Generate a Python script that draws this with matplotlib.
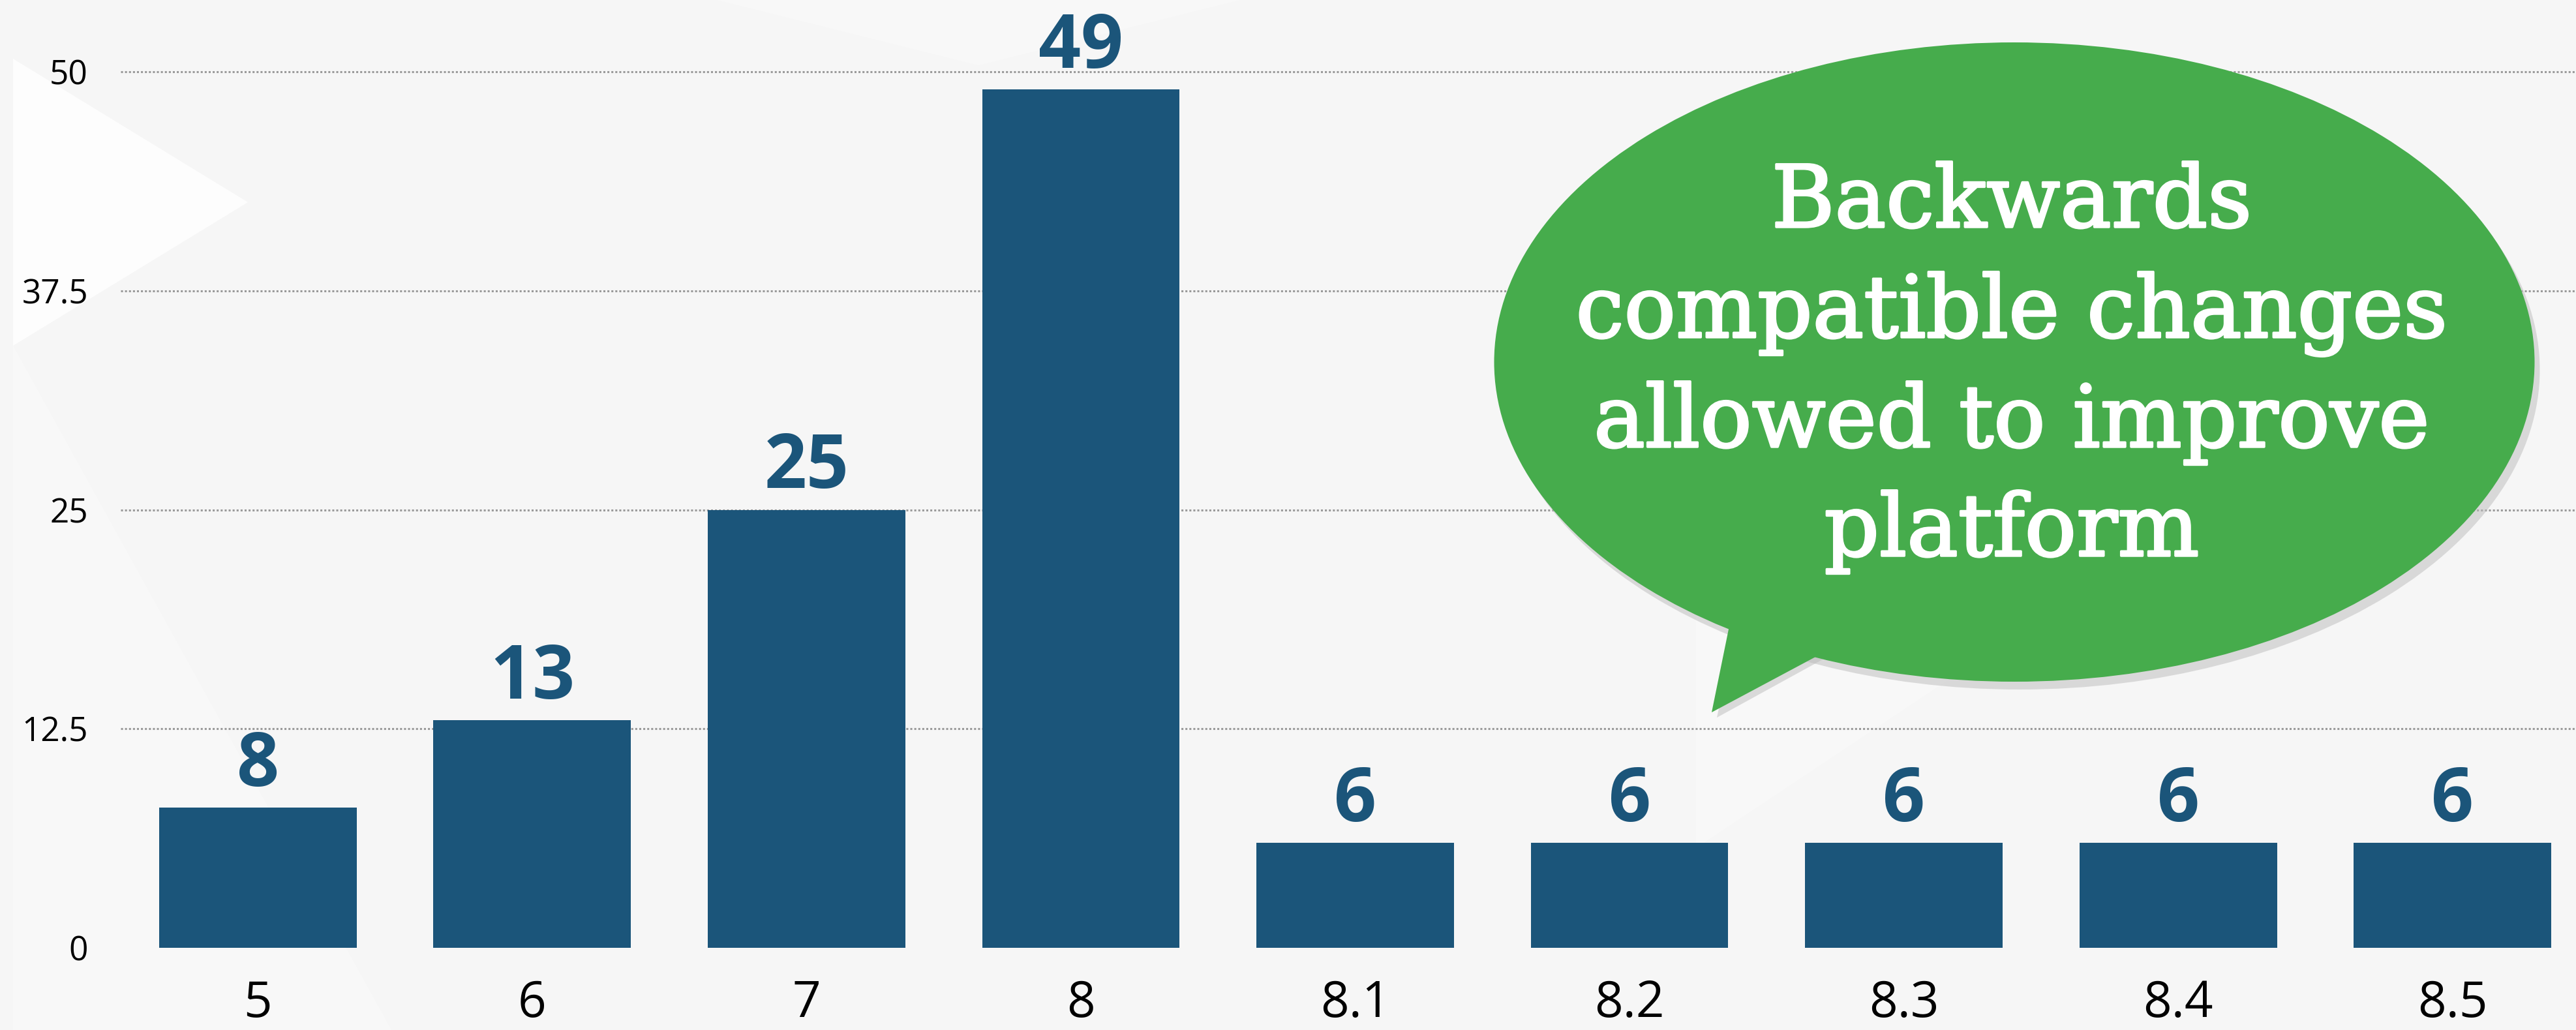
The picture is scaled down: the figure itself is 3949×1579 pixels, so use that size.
import matplotlib
matplotlib.use('Agg')
import matplotlib.pyplot as plt
import matplotlib.patheffects as pe
from matplotlib.patches import Ellipse, Polygon

# data
versions = ['5', '6', '7', '8', '8.1', '8.2', '8.3', '8.4', '8.5']
counts = [8, 13, 25, 49, 6, 6, 6, 6, 6]
y_ticks = [0, 12.5, 25, 37.5, 50]
y_tick_labels = ['0', '12.5', '25', '37.5', '50']
bubble_lines = ['Backwards', 'compatible changes', 'allowed to improve', 'platform']

bar_color = '#1B557A'
green = '#46AC4C'
sans = ['Open Sans', 'DejaVu Sans']

W, H = 3949, 1579
fig = plt.figure(figsize=(W / 100, H / 100), dpi=100)
fig.patch.set_facecolor('#F6F6F6')

# faint background triangles
bg = fig.add_axes([0, 0, 1, 1], zorder=0)
bg.set_xlim(0, W)
bg.set_ylim(H, 0)
bg.axis('off')
tris = [
    ([(20, 90), (380, 310), (20, 530)], 0.8),
    ([(20, 530), (20, 1579), (600, 1579)], 0.3),
    ([(1100, 0), (1900, 0), (1500, 100)], 0.3),
    ([(2600, 350), (3200, 900), (2600, 1300)], 0.3),
]
for t, a in tris:
    bg.add_patch(Polygon(t, closed=True, color='white', alpha=a, lw=0))

ax = fig.add_axes([185 / W, 1 - 1453 / H, 1 - 185 / W, 1453 / H], zorder=1)
ax.patch.set_alpha(0)
x = list(range(len(versions)))
ax.bar(x, counts, width=0.72, color=bar_color, zorder=3)
ax.set_xlim(-0.5, 8.45)
ax.set_ylim(0, 54.1)

for xi, v in zip(x, counts):
    ax.annotate(str(v), (xi, v), xytext=(0, 24), textcoords='offset points',
                ha='center', va='baseline', fontsize=82, fontweight='bold',
                color=bar_color, family=sans)

ax.set_yticks(y_ticks)
ax.set_yticklabels(y_tick_labels, family=sans, fontsize=37)
ax.set_xticks(x)
ax.set_xticklabels(versions, family=sans, fontsize=55)
ax.tick_params(axis='y', length=0, pad=36)
ax.tick_params(axis='x', length=0, pad=34)
for s in ax.spines.values():
    s.set_visible(False)
for yv in y_ticks[1:]:
    ax.axhline(yv, color='#9A9A9A', lw=2.2, ls=(0, (1, 1)), zorder=1)

# speech bubble, drawn in figure pixel coords
cx, cy, ew, eh = 3088, 555, 1595, 980
bub = fig.add_axes([0, 0, 1, 1], zorder=2)
bub.set_xlim(0, W)
bub.set_ylim(H, 0)
bub.axis('off')
bub.add_patch(Ellipse((cx + 8, cy + 12), ew, eh, color='#BBBBBB', alpha=0.5, lw=0))
bub.add_patch(Polygon([(2662, 960), (2632, 1100), (2805, 1005)], closed=True,
                      color='#BBBBBB', alpha=0.5, lw=0))
bub.add_patch(Ellipse((cx, cy), ew, eh, color=green, lw=0))
bub.add_patch(Polygon([(2655, 940), (2624, 1092), (2815, 990)], closed=True,
                      color=green, lw=0))
baselines = [348, 517, 685, 852]
for line, yb in zip(bubble_lines, baselines):
    bub.text(3084, yb, line, ha='center', va='baseline', color='white',
             fontsize=95, family=['DejaVu Serif'],
             path_effects=[pe.withStroke(linewidth=2.5, foreground='white')])

fig.savefig('out.png', dpi=100, facecolor=fig.get_facecolor())
